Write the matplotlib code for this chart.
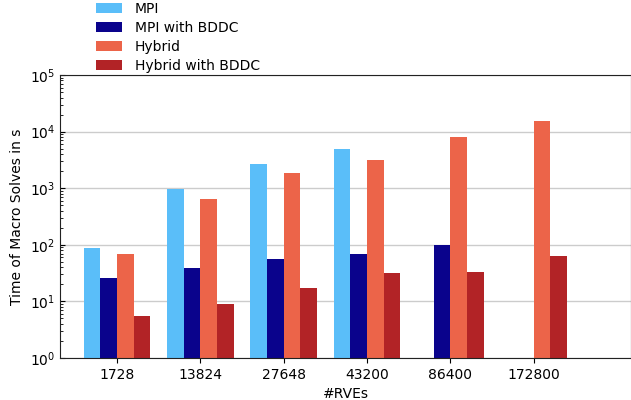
import numpy as np
import matplotlib
matplotlib.use('Agg')
import matplotlib.pyplot as plt

# 数据
rves = ['1728', '13824', '27648', '43200', '86400', '172800']
mpi = [88.5, 953, 2715, 4870, np.nan, np.nan]
mpi_bddc = [25.4, 39.7, 55, 69.3, 101, np.nan]
hybrid = [67.4, 635, 1880, 3150, 7940, 15660]
hybrid_bddc = [5.54, 9.16, 17.1, 32.4, 32.8, 63.9]

labels = ['MPI', 'MPI with BDDC', 'Hybrid', 'Hybrid with BDDC']
colors = ['#5abef9', '#0a038c', '#ec6449', '#b22326']
series = [mpi, mpi_bddc, hybrid, hybrid_bddc]

fig = plt.figure(figsize=(6.31, 4.0), dpi=100)
ax = fig.add_axes([60 / 631, 1 - 358 / 400, 571 / 631, 283 / 400])

x = np.arange(len(rves))
width = 0.2
for k, (vals, lab, col) in enumerate(zip(series, labels, colors)):
    ax.bar(x + (k - 1.5) * width, vals, width, color=col, label=lab)

ax.set_yscale('log')
ax.set_ylim(1, 1e5)
ax.set_xlim(-0.684, 6.17)
ax.set_xticks(x)
ax.set_xticklabels(rves)
ax.set_xlabel('#RVEs', fontsize=10)
ax.set_ylabel('Time of Macro Solves in s', fontsize=10)
ax.tick_params(axis='y', which='both', direction='in', labelsize=10)
ax.tick_params(axis='x', labelsize=10)
ax.set_axisbelow(True)
ax.yaxis.grid(True, which='major', color='#cccccc', linewidth=1)
for s in ax.spines.values():
    s.set_color('#222222')

ax.legend(loc='upper left', bbox_to_anchor=(96 / 631, 1 - 2 / 400),
          bbox_transform=fig.transFigure, frameon=False, fontsize=10,
          handlelength=1.9, handletextpad=0.9, labelspacing=0.36, borderpad=0,
          borderaxespad=0)

plt.savefig('out.png', dpi=100)
